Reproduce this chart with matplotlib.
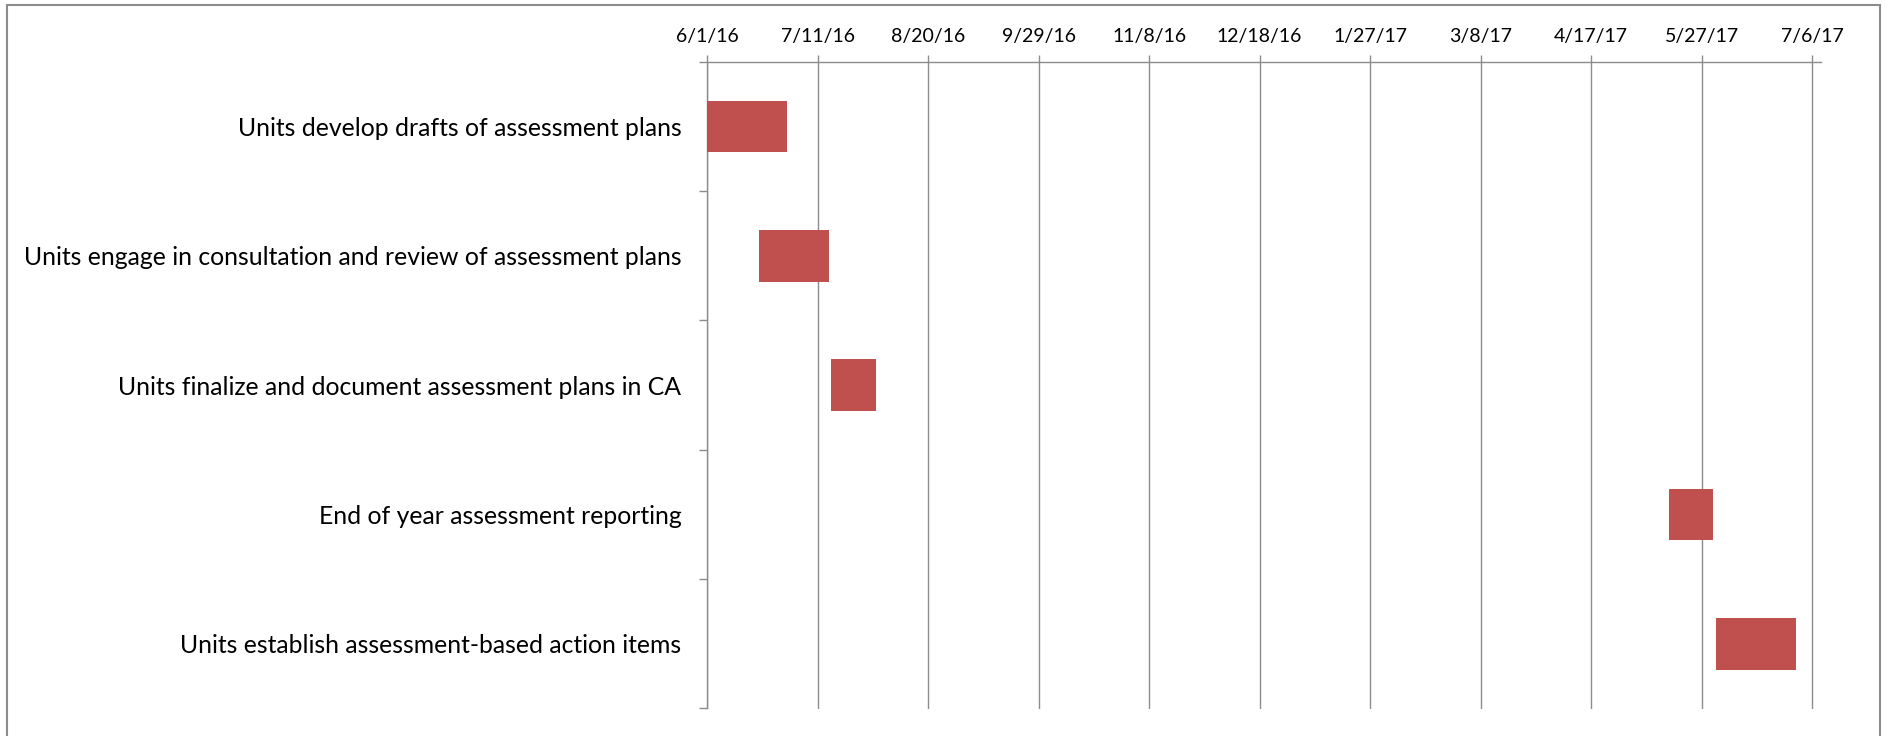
import numpy as np
import matplotlib
matplotlib.use("Agg")
import matplotlib.pyplot as plt
import matplotlib.dates as mdates
from matplotlib.patches import Rectangle
from datetime import datetime

tasks = [
    "Units develop drafts of assessment plans",
    "Units engage in consultation and review of assessment plans",
    "Units finalize and document assessment plans in CA",
    "End of year assessment reporting",
    "Units establish assessment-based action items",
]
starts = ["6/1/16", "6/20/16", "7/16/16", "5/15/17", "6/1/17"]
ends = ["6/30/16", "7/15/16", "8/1/16", "5/31/17", "6/30/17"]
tick_labels = ["6/1/16", "7/11/16", "8/20/16", "9/29/16", "11/8/16", "12/18/16",
               "1/27/17", "3/8/17", "4/17/17", "5/27/17", "7/6/17"]

def d(s):
    return mdates.date2num(datetime.strptime(s, "%m/%d/%y"))

plt.rcParams['font.family'] = ['Lato', 'DejaVu Sans']
grey = '#8c8c8c'
bar_col = '#c0504d'

W, H = 1889, 736
fig = plt.figure(figsize=(W / 100, H / 100), dpi=100)
fig.patch.set_facecolor('white')

# axes box in pixels (from top-left)
x0, x1 = 707, 1820.5
y0, y1 = 61.7, 708.5
ax = fig.add_axes([x0 / W, 1 - y1 / H, (x1 - x0) / W, (y1 - y0) / H])

s = np.array([d(v) for v in starts])
e = np.array([d(v) for v in ends])
y = np.arange(len(tasks))
ax.barh(y, e - s, left=s, height=0.4, color=bar_col, zorder=3)

ticks = [d(v) for v in tick_labels]
ax.set_xlim(ticks[0], ticks[-1] + 3)
ax.set_ylim(len(tasks) - 0.5, -0.5)

ax.xaxis.tick_top()
ax.set_xticks(ticks)
ax.set_xticklabels(tick_labels)
ax.tick_params(axis='x', which='major', direction='out', length=5, width=1.0,
               color=grey, pad=7, labelsize=14, labelcolor='black')
ax.grid(axis='x', color=grey, linewidth=1.0, zorder=1)

ax.set_yticks(np.arange(-0.5, len(tasks)), minor=False)
ax.set_yticklabels([], minor=False)
ax.set_yticks(y, minor=True)
ax.set_yticklabels(tasks, minor=True)
ax.tick_params(axis='y', which='major', direction='out', length=5.8, width=1.0, color=grey)
ax.tick_params(axis='y', which='minor', length=0, pad=18.5, labelsize=17.8, labelcolor='black')

for side in ['right', 'bottom']:
    ax.spines[side].set_visible(False)
for side in ['top', 'left']:
    ax.spines[side].set_color(grey)
    ax.spines[side].set_linewidth(1.0)

# chart-area border (bottom edge runs off the image)
fig.patches.append(Rectangle((7 / W, -0.05), (1880 - 7) / W, 1.05 - 4.5 / H,
                             transform=fig.transFigure, fill=False,
                             edgecolor=grey, linewidth=1.5))

fig.savefig("out.png", dpi=100)
